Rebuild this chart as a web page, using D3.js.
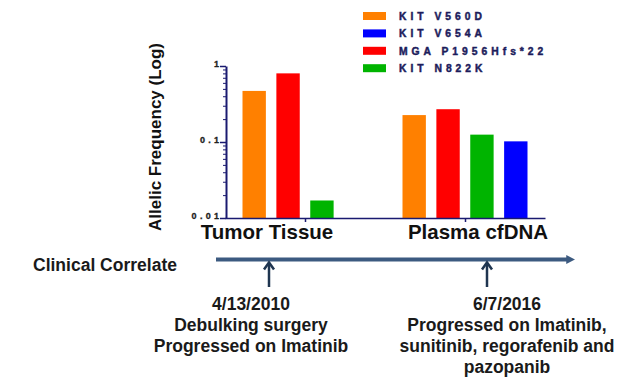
<!DOCTYPE html>
<html>
<head>
<meta charset="utf-8">
<script src="https://cdn.jsdelivr.net/npm/d3@7"></script>
<style>
  body { margin: 0; background: #fff; }
  text { font-family: "Liberation Sans", Arial, sans-serif; font-weight: bold; }
</style>
</head>
<body>
<div id="chart"></div>
<script>
// chart data
var groups = ['Tumor Tissue', 'Plasma cfDNA'];
var barSeries = ['KIT V560D', 'MGA P1956Hfs*22', 'KIT N822K', 'KIT V654A'];
var tumorValues = [0.47, 0.80, 0.017, null];
var plasmaValues = [0.226, 0.27, 0.125, 0.102];
var legendOrder = ['KIT V560D', 'KIT V654A', 'MGA P1956Hfs*22', 'KIT N822K'];
var yTickValues = [0.01, 0.1, 1];

// timeline data
var eventDates = ['2010-04-13', '2016-06-07'];
var eventLabels = [
    ['4/13/2010', 'Debulking surgery', 'Progressed on Imatinib'],
    ['6/7/2016', 'Progressed on Imatinib,', 'sunitinib, regorafenib and', 'pazopanib']
];

var colors = {
    'KIT V560D': '#ff8000',
    'KIT V654A': '#0000ff',
    'MGA P1956Hfs*22': '#ff0000',
    'KIT N822K': '#00b400'
};
var navy = '#1a1a70';

var svgWidth = 640;
var svgHeight = 383;

var svg = d3.select('#chart')
    .append('svg')
    .attr('width', svgWidth)
    .attr('height', svgHeight);

// scales
var yScale = d3.scaleLog()
    .domain([0.01, 1])
    .range([218, 66]);

var xGroup = d3.scalePoint()
    .domain(groups)
    .range([225, 545])
    .padding(0.5);

var xInner = d3.scaleBand()
    .domain(barSeries)
    .range([-62.5, 62.5])
    .paddingInner(0.31);

// bars
var table = [tumorValues, plasmaValues];
groups.forEach(function(g, gi) {
    var rows = barSeries.map(function(s, si) {
        return { series: s, value: table[gi][si] };
    }).filter(function(d) { return d.value != null; });

    svg.append('g')
        .selectAll('rect')
        .data(rows)
        .enter()
        .append('rect')
        .attr('x', d => xGroup(g) + xInner(d.series))
        .attr('width', xInner.bandwidth())
        .attr('y', d => yScale(d.value))
        .attr('height', d => yScale(0.01) - yScale(d.value))
        .attr('fill', d => colors[d.series]);
});

// y axis: minor ticks then major ticks
var minorAxis = d3.axisLeft(yScale)
    .tickValues(yScale.ticks())
    .tickSize(3)
    .tickFormat('');
var minorG = svg.append('g')
    .attr('transform', 'translate(226, 0)')
    .call(minorAxis);
minorG.select('.domain').remove();
minorG.selectAll('line').attr('stroke', navy);

var majorAxis = d3.axisLeft(yScale)
    .tickValues(yTickValues)
    .tickSize(6)
    .tickSizeOuter(0)
    .tickPadding(1)
    .tickFormat(d3.format(''));
var majorG = svg.append('g')
    .attr('transform', 'translate(226, 0)')
    .call(majorAxis);
majorG.select('.domain').attr('stroke', navy).attr('stroke-width', 2);
majorG.selectAll('line').attr('stroke', navy).attr('stroke-width', 1.5);
majorG.selectAll('text')
    .attr('fill', '#222')
    .attr('stroke', '#222')
    .attr('stroke-width', 0.3)
    .attr('dy', '0.1em')
    .style('font-size', '9px')
    .style('letter-spacing', '3.3px')
    .attr('dx', 3.3);

// x axis
var xAxis = d3.axisBottom(xGroup)
    .tickSize(4)
    .tickSizeOuter(0)
    .tickFormat('');
var xG = svg.append('g')
    .attr('transform', 'translate(0, 218)')
    .call(xAxis);
xG.select('.domain').attr('stroke', navy).attr('stroke-width', 1.5);
xG.selectAll('line').attr('stroke', navy).attr('stroke-width', 1.5);

// category labels
var labelShift = [-38, 13];
svg.selectAll('.cat')
    .data(groups)
    .enter()
    .append('text')
    .attr('class', 'cat')
    .attr('x', (d, i) => xGroup(d) + labelShift[i])
    .attr('y', 239)
    .attr('text-anchor', 'middle')
    .attr('fill', '#111')
    .style('font-size', '20.5px')
    .text(d => d);

// y axis title
svg.append('text')
    .attr('transform', 'translate(161, 137) rotate(-90)')
    .attr('text-anchor', 'middle')
    .attr('fill', '#111')
    .style('font-size', '17px')
    .text('Allelic Frequency (Log)');

// legend
var legend = svg.append('g');
legendOrder.forEach(function(s, i) {
    var yy = 16 + i * 17.4;
    legend.append('rect')
        .attr('x', 363)
        .attr('y', yy - 4)
        .attr('width', 23)
        .attr('height', 8)
        .attr('fill', colors[s]);
    legend.append('text')
        .attr('x', 399)
        .attr('y', yy + 3.7)
        .attr('fill', '#1c1c5c')
        .attr('stroke', '#1c1c5c')
        .attr('stroke-width', 0.45)
        .style('font-size', '10.3px')
        .style('letter-spacing', '4px')
        .text(s);
});

// clinical timeline
var parseDate = d3.timeParse('%Y-%m-%d');
var dates = eventDates.map(parseDate);
var xTime = d3.scaleTime()
    .domain(dates)
    .range([269, 487]);

var lineY = 259.5;
var defs = svg.append('defs');
defs.append('marker')
    .attr('id', 'head')
    .attr('viewBox', '0 0 10 10')
    .attr('refX', 2)
    .attr('refY', 5)
    .attr('markerWidth', 2.2)
    .attr('markerHeight', 2.2)
    .attr('orient', 'auto')
    .append('path')
    .attr('d', 'M0,0L10,5L0,10Z')
    .attr('fill', '#3c5a80');

svg.append('line')
    .attr('x1', 216)
    .attr('x2', 568)
    .attr('y1', lineY)
    .attr('y2', lineY)
    .attr('stroke', '#3c5a80')
    .attr('stroke-width', 4)
    .attr('marker-end', 'url(#head)');

svg.append('text')
    .attr('x', 33)
    .attr('y', 271)
    .attr('fill', '#1a1a1a')
    .style('font-size', '17.5px')
    .text('Clinical Correlate');

var labelOffset = [-18, 20];
dates.forEach(function(dt, i) {
    var ax = xTime(dt);
    svg.append('line')
        .attr('x1', ax).attr('x2', ax)
        .attr('y1', lineY + 4).attr('y2', 287)
        .attr('stroke', '#1f3550')
        .attr('stroke-width', 2.5);
    svg.append('path')
        .attr('d', `M${ax - 5},${lineY + 10}L${ax},${lineY + 3}L${ax + 5},${lineY + 10}`)
        .attr('fill', 'none')
        .attr('stroke', '#1f3550')
        .attr('stroke-width', 2.5);

    svg.append('text')
        .attr('text-anchor', 'middle')
        .attr('fill', '#1a1a1a')
        .style('font-size', '17.5px')
        .selectAll('tspan')
        .data(eventLabels[i])
        .enter()
        .append('tspan')
        .attr('x', ax + labelOffset[i])
        .attr('y', (d, j) => 310 + j * 21)
        .text(d => d);
});
</script>
</body>
</html>
